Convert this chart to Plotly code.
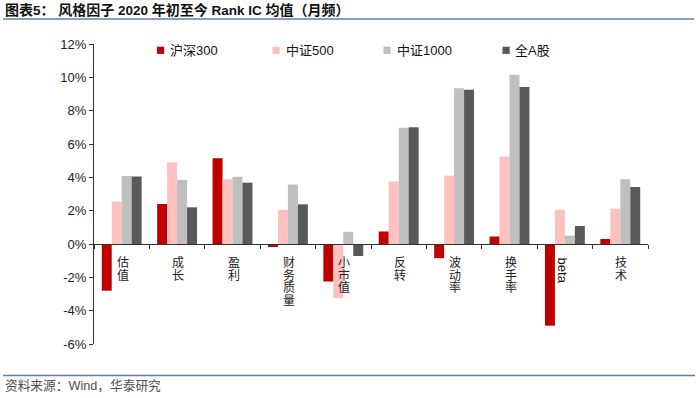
import plotly.graph_objects as go

categories = ["估值", "成长", "盈利", "财务质量", "小市值", "反转", "波动率", "换手率", "beta", "技术"]
hs300 = [-2.8, 2.4, 5.15, -0.18, -2.25, 0.75, -0.85, 0.45, -4.9, 0.3]
zz500 = [2.55, 4.9, 3.88, 2.05, -3.25, 3.75, 4.1, 5.25, 2.05, 2.12]
zz1000 = [4.08, 3.85, 4.03, 3.57, 0.73, 6.97, 9.35, 10.15, 0.5, 3.88]
quanA = [4.05, 2.2, 3.68, 2.38, -0.72, 7.0, 9.25, 9.42, 1.08, 3.42]
series_names = ["沪深300", "中证500", "中证1000", "全A股"]
colors = ["#C00000", "#FFC0C0", "#BFBFBF", "#595959"]
ytickvals = [-6, -4, -2, 0, 2, 4, 6, 8, 10, 12]
yticktext = ["-6%", "-4%", "-2%", "0%", "2%", "4%", "6%", "8%", "10%", "12%"]
title_text = "图表5： 风格因子 2020 年初至今 Rank IC 均值（月频）"
source_text = "资料来源：Wind，华泰研究"

LAT = "Liberation Sans, Arial, Noto Sans CJK SC, sans-serif"
CJK = "Noto Sans CJK SC, Liberation Sans, sans-serif"

# plot area geometry in pixels (for converting decorations to paper coords)
L, R, T, B = 94, 648, 44, 344
W, H = R - L, B - T


def px_x(px):
    return (px - L) / W


def px_y(py):
    return (B - py) / H


def wrap_cjk(s, size):
    out, run = [], ""
    for ch in s:
        if ord(ch) > 127:
            run += ch
        else:
            if run:
                out.append('<span style="font-size:%spx">%s</span>' % (size, run))
                run = ""
            out.append(ch)
    if run:
        out.append('<span style="font-size:%spx">%s</span>' % (size, run))
    return "".join(out)


fig = go.Figure()
for name, vals, c in zip(series_names, [hs300, zz500, zz1000, quanA], colors):
    fig.add_trace(go.Bar(x=categories, y=vals, name=name, marker=dict(color=c, line=dict(width=0)),
                         showlegend=False))

annotations = []
for cat in categories:
    if cat == "beta":
        annotations.append(dict(x=cat, y=0, xref="x", yref="y", text=cat, textangle=90,
                                showarrow=False, yanchor="middle", xanchor="center",
                                yshift=-26.5, xshift=-2, font=dict(family=LAT, size=13, color="#111")))
    else:
        for k, ch in enumerate(cat):
            annotations.append(dict(x=cat, y=0, xref="x", yref="y", text=ch, showarrow=False,
                                    yanchor="middle", xanchor="center", xshift=1,
                                    yshift=-(17.5 + 12.7 * k),
                                    font=dict(family=CJK, size=12, color="#222")))

annotations.append(dict(xref="paper", yref="paper", x=px_x(3), y=px_y(10),
                        xanchor="left", yanchor="middle", showarrow=False,
                        text="<b>" + wrap_cjk(title_text, 14) + "</b>",
                        font=dict(family=LAT, size=13.5, color="#111")))
annotations.append(dict(xref="paper", yref="paper", x=px_x(3), y=px_y(386),
                        xanchor="left", yanchor="middle", showarrow=False,
                        text=source_text,
                        font=dict(family=LAT, size=12.7, color="#505050")))

shapes = [
    dict(type="line", xref="paper", yref="paper", x0=px_x(3), x1=px_x(694),
         y0=px_y(19), y1=px_y(19), line=dict(color="#5B7FA8", width=1.5)),
    dict(type="line", xref="paper", yref="paper", x0=px_x(3), x1=px_x(695),
         y0=px_y(375.5), y1=px_y(375.5), line=dict(color="#5B7FA8", width=1.5)),
]

# legend (custom: square + label)
legend_sq_x = [157, 272.5, 383.5, 502.5]
legend_tx_x = [168, 284, 395, 513]
for name, c, sx, tx in zip(series_names, colors, legend_sq_x, legend_tx_x):
    shapes.append(dict(type="rect", xref="paper", yref="paper", x0=px_x(sx), x1=px_x(sx + 7.2),
                       y0=px_y(46.7), y1=px_y(53.9), fillcolor=c, line=dict(width=0)))
    annotations.append(dict(xref="paper", yref="paper", x=px_x(tx), y=px_y(50.3),
                            xanchor="left", yanchor="middle", showarrow=False, text=name,
                            font=dict(family=LAT, size=13, color="#111")))

fig.update_layout(
    width=700, height=398,
    margin=dict(l=L, r=700 - R, t=T, b=398 - B, autoexpand=False),
    paper_bgcolor="white", plot_bgcolor="white",
    barmode="group", bargap=0.28, bargroupgap=0,
    showlegend=False,
    xaxis=dict(type="category", anchor="free", position=1 / 3, showticklabels=False,
               tickson="boundaries", ticks="outside", ticklen=4, tickcolor="#333",
               showline=True, linecolor="#333", linewidth=1, showgrid=False, zeroline=False),
    yaxis=dict(range=[-6, 12], tickmode="array", tickvals=ytickvals, ticktext=yticktext,
               ticks="outside", ticklen=4, tickcolor="#333", showline=True, linecolor="#333",
               linewidth=1, showgrid=False, zeroline=False,
               tickfont=dict(family=LAT, size=13, color="#222")),
    annotations=annotations, shapes=shapes,
)

fig.write_html("out.html", config={"displayModeBar": False},
               post_script="document.body.style.margin='0px';")
